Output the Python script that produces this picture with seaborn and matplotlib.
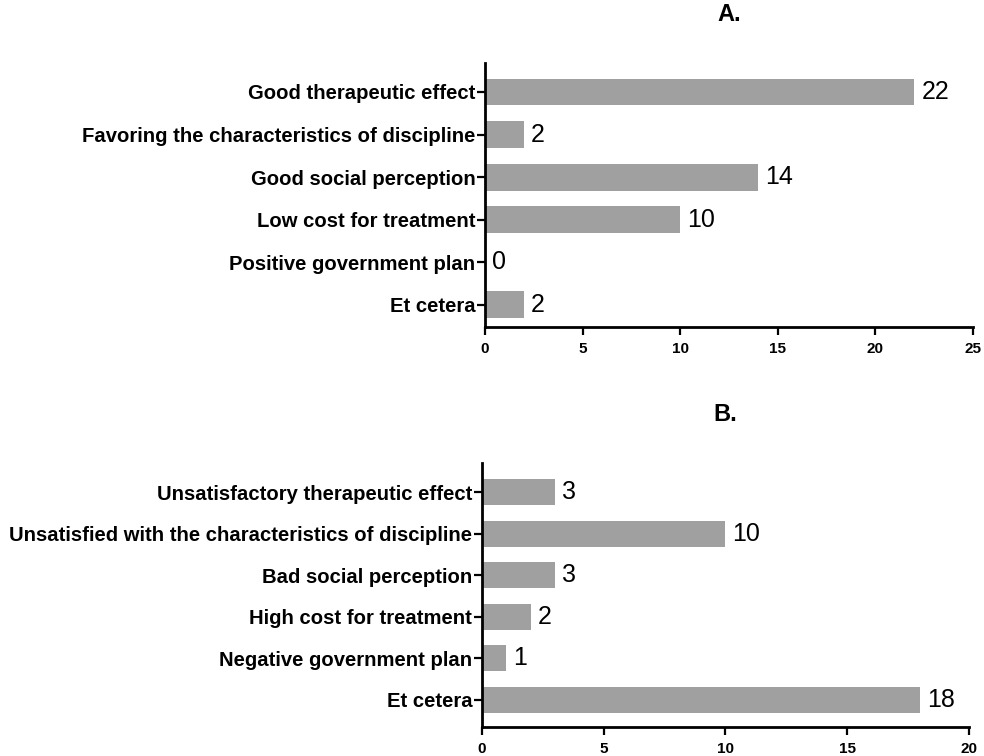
import matplotlib
matplotlib.use("Agg")
import matplotlib.pyplot as plt
import seaborn as sns
import pandas as pd

sns.set_theme(style="white")
plt.rcParams["font.family"] = ["Liberation Sans", "DejaVu Sans"]

# Panel A: reasons for choosing
cats_a = ["Good therapeutic effect", "Favoring the characteristics of discipline",
          "Good social perception", "Low cost for treatment",
          "Positive government plan", "Et cetera"]
vals_a = [22, 2, 14, 10, 0, 2]

# Panel B: reasons for not choosing
cats_b = ["Unsatisfactory therapeutic effect",
          "Unsatisfied with the characteristics of discipline",
          "Bad social perception", "High cost for treatment",
          "Negative government plan", "Et cetera"]
vals_b = [3, 10, 3, 2, 1, 18]

bar_color = "#a0a0a0"

fig = plt.figure(figsize=(9.84, 7.56), dpi=100)
ax_a = fig.add_axes([0.4929, 0.5675, 0.4959, 0.3492])
ax_b = fig.add_axes([0.4898, 0.0384, 0.4949, 0.3492])


def draw(ax, cats, vals, xmax, step, title, ylim):
    df = pd.DataFrame({"cat": cats, "val": vals})
    sns.barplot(data=df, x="val", y="cat", orient="h", color=bar_color,
                width=0.63, saturation=1, linewidth=0, ax=ax)
    ax.set_xlim(0, xmax)
    ax.set_ylim(*ylim)
    ax.set_xticks(range(0, xmax + 1, step))
    ax.set_xlabel("")
    ax.set_ylabel("")
    for i, v in enumerate(vals):
        ax.annotate(str(v), (v, i), xytext=(5, 0), textcoords="offset points",
                    va="center", ha="left", fontsize=18, color="black")
    for s in ["top", "right"]:
        ax.spines[s].set_visible(False)
    for s in ["left", "bottom"]:
        ax.spines[s].set_linewidth(2)
        ax.spines[s].set_color("black")
    ax.tick_params(axis="y", which="major", left=True, length=6, width=1.6,
                   labelsize=14.6, pad=1, color="black")
    ax.tick_params(axis="x", which="major", bottom=True, length=6, width=1.6,
                   labelsize=11, pad=5, color="black")
    for lbl in ax.get_yticklabels() + ax.get_xticklabels():
        lbl.set_fontweight("bold")
        lbl.set_color("black")
    ax.set_title(title, fontsize=17, fontweight="bold", pad=30, color="black")
    ax.grid(False)


draw(ax_a, cats_a, vals_a, 25, 5, "A.", (5.52, -0.68))
draw(ax_b, cats_b, vals_b, 20, 5, "B.", (5.65, -0.7))

fig.savefig("out.png", dpi=100)
